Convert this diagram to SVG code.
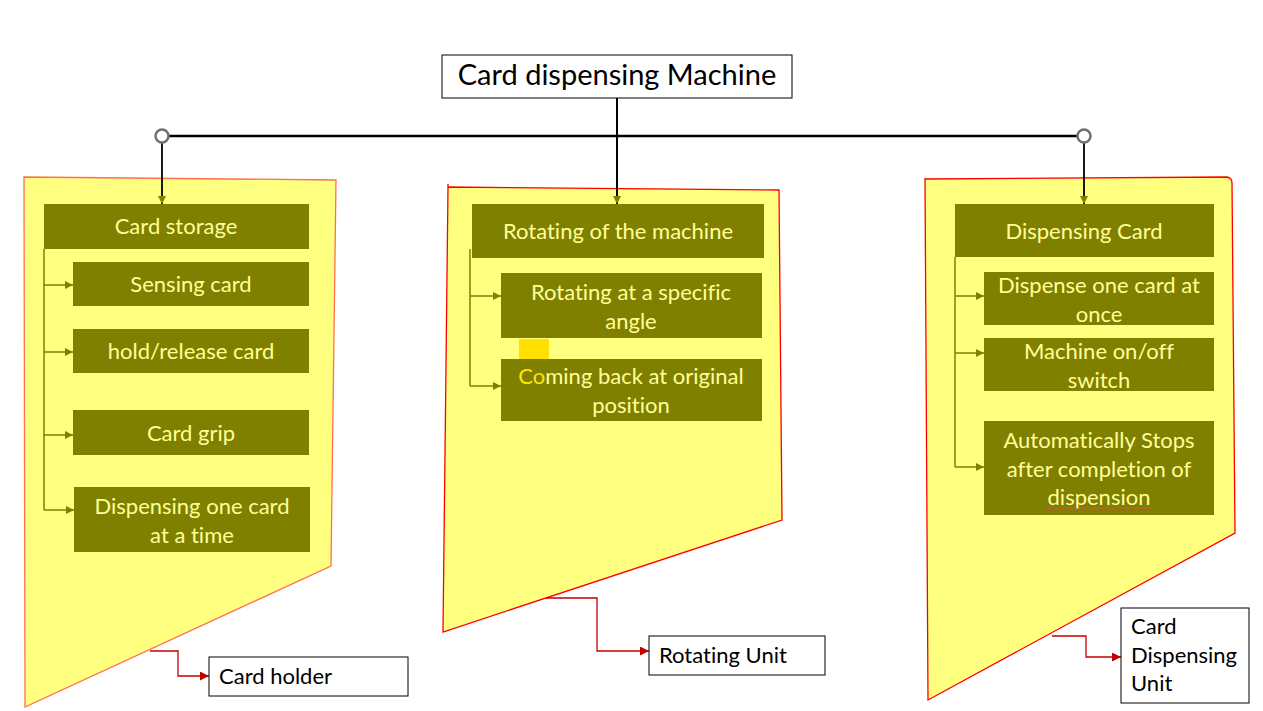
<svg xmlns="http://www.w3.org/2000/svg" width="1263" height="711" viewBox="0 0 1263 711">
<defs>
<style>
text{font-variant-ligatures:none;font-feature-settings:"liga" 0,"dlig" 0}
.panel{fill:#FFFF80;stroke-width:1.3}
.box{fill:#808000}
.t{font-family:Lato,"Liberation Sans",sans-serif;font-size:22px;fill:#FFFF99;text-anchor:middle}
.lbl{fill:#fff;stroke:#000;stroke-width:1}
.lt{font-family:Lato,"Liberation Sans",sans-serif;font-size:22px;fill:#000}
.ol{stroke:#808000;stroke-width:1.5;fill:none}
.blk{stroke:#000;fill:none}
.red{stroke:#C00000;stroke-width:1.3;fill:none}
</style>
<marker id="ao" viewBox="0 0 10 10" refX="10" refY="5" markerWidth="8" markerHeight="8" markerUnits="userSpaceOnUse" orient="auto"><path d="M0,0 L10,5 L0,10 z" fill="#808000"/></marker>
<marker id="ar" viewBox="0 0 10 10" refX="10" refY="5" markerWidth="9" markerHeight="9" markerUnits="userSpaceOnUse" orient="auto"><path d="M0,0 L10,5 L0,10 z" fill="#C00000"/></marker>
</defs>
<rect width="1263" height="711" fill="#fff"/>

<g id="panels">
<polygon class="panel" stroke="#FF7050" points="24,177 336,180 331,566 25,707"/>
<polygon class="panel" stroke="#FF0000" points="448,187 779,190 782,520 443,632"/>
<path d="M448,187 L448,184" stroke="#FF0000" stroke-width="1.3"/>
<path class="panel" stroke="#FF0000" d="M925,179 L1227,177 Q1232,178 1232,183 L1235,533 L928,700 Z"/>
</g>

<g id="connectors">
<line class="blk" x1="617" y1="98" x2="617" y2="204" stroke-width="2" marker-end="url(#ao)"/>
<line class="blk" x1="162" y1="136" x2="1084" y2="136" stroke-width="2.5"/>
<line class="blk" x1="162" y1="142" x2="162" y2="204" stroke-width="1.8" marker-end="url(#ao)"/>
<line class="blk" x1="1084" y1="142" x2="1084" y2="204" stroke-width="1.8" marker-end="url(#ao)"/>
<circle cx="162" cy="136" r="6.5" fill="#fff" stroke="#707070" stroke-width="2.5"/>
<circle cx="1084" cy="136" r="6.5" fill="#fff" stroke="#707070" stroke-width="2.5"/>

<path class="ol" d="M44,249 L44,510"/>
<line class="ol" x1="44" y1="285" x2="73" y2="285" marker-end="url(#ao)"/>
<line class="ol" x1="44" y1="352" x2="73" y2="352" marker-end="url(#ao)"/>
<line class="ol" x1="44" y1="435" x2="73" y2="435" marker-end="url(#ao)"/>
<line class="ol" x1="44" y1="510" x2="74" y2="510" marker-end="url(#ao)"/>

<path class="ol" d="M470,249 L470,386"/>
<line class="ol" x1="470" y1="296" x2="501" y2="296" marker-end="url(#ao)"/>
<line class="ol" x1="470" y1="386" x2="501" y2="386" marker-end="url(#ao)"/>

<path class="ol" d="M955,257 L955,467"/>
<line class="ol" x1="955" y1="296" x2="984" y2="296" marker-end="url(#ao)"/>
<line class="ol" x1="955" y1="353" x2="984" y2="353" marker-end="url(#ao)"/>
<line class="ol" x1="955" y1="467" x2="984" y2="467" marker-end="url(#ao)"/>

<path class="red" d="M150,651 L178,651 L178,676 L209,676" marker-end="url(#ar)"/>
<path class="red" d="M546,598 L597,598 L597,651 L649,651" marker-end="url(#ar)"/>
<path class="red" d="M1052,636 L1086,636 L1086,657 L1121,657" marker-end="url(#ar)"/>
</g>

<g id="title">
<rect class="lbl" x="442" y="55" width="350" height="43"/>
<text x="617" y="85" style="font-family:Lato,'Liberation Sans',sans-serif;font-size:29px;fill:#000;text-anchor:middle">Card dispensing Machine</text>
</g>

<g id="card-storage"><rect class="box" x="44" y="204" width="265" height="45"/><text class="t" x="176" y="234">Card storage</text></g>
<g id="sensing-card"><rect class="box" x="73" y="262" width="236" height="44"/><text class="t" x="191" y="292">Sensing card</text></g>
<g id="hold-release"><rect class="box" x="73" y="329" width="236" height="44"/><text class="t" x="191" y="359">hold/release card</text></g>
<g id="card-grip"><rect class="box" x="73" y="410" width="236" height="45"/><text class="t" x="191" y="441">Card grip</text></g>
<g id="dispensing-one"><rect class="box" x="74" y="487" width="236" height="65"/><text class="t" x="192" y="514">Dispensing one card</text><text class="t" x="192" y="543">at a time</text></g>

<g id="rotating-machine"><rect class="box" x="472" y="204" width="292" height="54"/><text class="t" x="618" y="239">Rotating of the machine</text></g>
<g id="rotating-angle"><rect class="box" x="501" y="273" width="261" height="65"/><text class="t" x="631" y="300">Rotating at a specific</text><text class="t" x="631" y="329">angle</text></g>
<rect x="519" y="339" width="30" height="20" fill="#FFE000"/>
<g id="coming-back"><rect class="box" x="501" y="359" width="261" height="62"/><text class="t" x="631" y="384"><tspan fill="#FFE600">Co</tspan>ming back at original</text><text class="t" x="631" y="413">position</text></g>

<g id="dispensing-card"><rect class="box" x="955" y="204" width="259" height="53"/><text class="t" x="1084" y="239">Dispensing Card</text></g>
<g id="dispense-once"><rect class="box" x="984" y="272" width="230" height="53"/><text class="t" x="1099" y="293">Dispense one card at</text><text class="t" x="1099" y="322">once</text></g>
<g id="on-off"><rect class="box" x="984" y="338" width="230" height="53"/><text class="t" x="1099" y="359">Machine on/off</text><text class="t" x="1099" y="388">switch</text></g>
<g id="auto-stop"><rect class="box" x="984" y="421" width="230" height="94"/><text class="t" x="1099" y="448">Automatically Stops</text><text class="t" x="1099" y="477">after completion of</text><text class="t" x="1099" y="505">dispension</text>
<path d="M1046,509 l2,-1.5 l2,1.5 l2,-1.5 l2,1.5 l2,-1.5 l2,1.5 l2,-1.5 l2,1.5 l2,-1.5 l2,1.5 l2,-1.5 l2,1.5 l2,-1.5 l2,1.5 l2,-1.5 l2,1.5 l2,-1.5 l2,1.5 l2,-1.5 l2,1.5 l2,-1.5 l2,1.5 l2,-1.5 l2,1.5 l2,-1.5 l2,1.5 l2,-1.5 l2,1.5 l2,-1.5 l2,1.5 l2,-1.5 l2,1.5 l2,-1.5 l2,1.5 l2,-1.5 l2,1.5 l2,-1.5 l2,1.5 l2,-1.5 l2,1.5 l2,-1.5 l2,1.5 l2,-1.5 l2,1.5 l2,-1.5 l2,1.5 l2,-1.5 l2,1.5 l2,-1.5 l2,1.5 l2,-1.5 l2,1.5 l2,-1.5 l2,1.5" fill="none" stroke="#E05050" stroke-width="0.8"/></g>

<g id="card-holder"><rect class="lbl" x="209" y="657" width="199" height="39"/><text class="lt" x="219" y="684">Card holder</text></g>
<g id="rotating-unit"><rect class="lbl" x="649" y="636" width="176" height="39"/><text class="lt" x="659" y="663">Rotating Unit</text></g>
<g id="card-dispensing-unit"><rect class="lbl" x="1121" y="608" width="128" height="95"/><text class="lt" x="1131" y="634">Card</text><text class="lt" x="1131" y="663">Dispensing</text><text class="lt" x="1131" y="691">Unit</text></g>
</svg>
